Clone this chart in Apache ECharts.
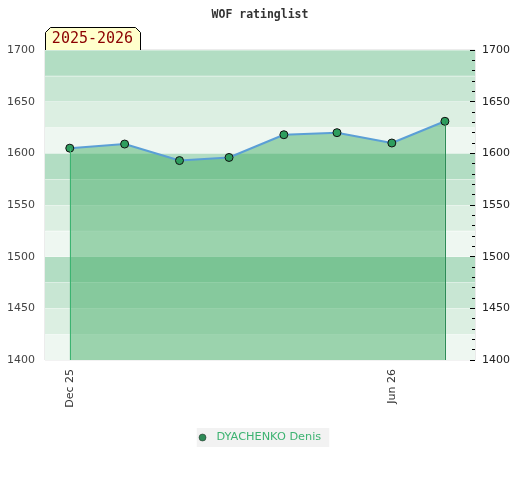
<!DOCTYPE html>
<html><head><meta charset="utf-8">
<script src="https://cdn.jsdelivr.net/npm/echarts@6/dist/echarts.min.js"></script>
<style>html,body{margin:0;padding:0;background:#fff}#c{width:520px;height:480px}</style>
</head><body><div id="c"></div>
<script>
var dates = ['2025-12-01','2026-01-01','2026-02-01','2026-03-01','2026-04-01','2026-05-01','2026-06-01','2026-07-01'];
var ratings = [1605, 1609, 1593, 1596, 1618, 1620, 1610, 1631];
var xTickDates = ['2025-12-01', '2026-06-01'];
var xRange = ['2025-11-17', '2026-07-18'];
var yMin = 1400, yMax = 1700;
var seriesName = 'DYACHENKO Denis';
var seasonLabel = '2025-2026';
var titleText = 'WOF ratinglist';
var MONTHS = ['Jan','Feb','Mar','Apr','May','Jun','Jul','Aug','Sep','Oct','Nov','Dec'];

function ts(s){ var p = s.split('-'); return Date.UTC(+p[0], +p[1]-1, +p[2]); }
var pts = dates.map(function(d,i){ return [ts(d), ratings[i]]; });
var last = pts.length - 1;

var chart = echarts.init(document.getElementById('c'), null, {renderer:'canvas'});
chart.setOption({
  animation:false,
  title:{text:titleText, left:'center', top:4,
    textStyle:{fontFamily:'DejaVu Sans Mono', fontWeight:'bold', fontSize:11.5, color:'#333'}},
  grid:{left:45, right:45, top:50, bottom:120, show:true, borderColor:'#d8d8d8', borderWidth:1, backgroundColor:'transparent'},
  xAxis:{type:'value', min:ts(xRange[0]), max:ts(xRange[1]),
    axisLine:{show:false}, axisTick:{show:false}, splitLine:{show:false},
    axisLabel:{customValues:xTickDates.map(ts), rotate:90, margin:9, fontFamily:'DejaVu Sans', fontSize:11, color:'#333',
      formatter:function(v){ var d=new Date(v); return MONTHS[d.getUTCMonth()]+' '+String(d.getUTCFullYear()).slice(2); }}
  },
  yAxis:[
    {type:'value', min:yMin, max:yMax, interval:25, position:'left',
      axisLine:{show:false}, axisTick:{show:false},
      axisLabel:{margin:10, fontFamily:'DejaVu Sans', fontSize:11, color:'#444',
        formatter:function(v){ return v % 50 === 0 ? String(v) : ''; }},
      splitLine:{show:true, lineStyle:{color:'rgba(255,255,255,0.35)', width:1}},
      splitArea:{show:true, areaStyle:{color:['#eef7f1','#dcefe2','#c8e6d3','#b2ddc3']}}
    },
    {type:'value', min:yMin, max:yMax, interval:50, position:'right',
      axisLine:{show:false},
      axisTick:{show:true, inside:true, length:5, lineStyle:{color:'#000'}},
      minorTick:{show:true, splitNumber:5, length:3, lineStyle:{color:'#000'}},
      axisLabel:{margin:7, fontFamily:'DejaVu Sans', fontSize:11, color:'#222',
        formatter:function(v){ return String(v); }},
      splitLine:{show:false}
    }
  ],
  legend:{bottom:33, left:'center', backgroundColor:'#f2f2f2', padding:[4,8,4,2],
    icon:'circle', itemWidth:18, itemHeight:7, itemGap:5,
    itemStyle:{color:'#2e8b57', borderColor:'#222', borderWidth:0.5},
    textStyle:{color:'#3cb371', fontFamily:'DejaVu Sans', fontSize:11.3},
    data:[seriesName]},
  series:[{
    name:seriesName, type:'line', data:pts, yAxisIndex:0,
    symbol:'circle', symbolSize:8,
    lineStyle:{color:'#5b9fd6', width:2},
    itemStyle:{color:'#2e9e5e', borderColor:'#111', borderWidth:1},
    areaStyle:{origin:'start', color:'rgb(54,167,92)', opacity:0.45},
    markLine:{silent:true, symbol:'none', label:{show:false}, animation:false,
      data:[
        [{coord:[pts[0][0], yMin], lineStyle:{color:'#3cb371', width:1, type:'solid'}}, {coord:[pts[0][0], pts[0][1]]}],
        [{coord:[pts[last][0], yMin], lineStyle:{color:'#2e8b57', width:1, type:'solid'}}, {coord:[pts[last][0], pts[last][1]]}]
      ]}
  }],
  graphic:[{
    type:'group', left:45, top:27,
    children:[
      {type:'polygon', shape:{points:[[0,5],[5,0],[90,0],[95,5],[95,23],[0,23]]},
        style:{fill:'#ffffcc', stroke:'#000', lineWidth:1}},
      {type:'text', x:47, y:12, style:{text:seasonLabel, fill:'#8b0000', font:'15px "DejaVu Sans Mono"', align:'center', verticalAlign:'middle'}}
    ]
  }]
});
</script></body></html>
